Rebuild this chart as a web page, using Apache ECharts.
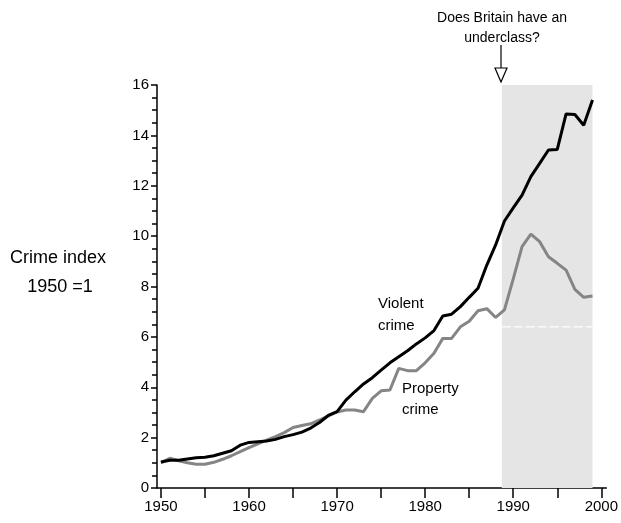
<!DOCTYPE html>
<html><head><meta charset="utf-8">
<script src="https://cdn.jsdelivr.net/npm/echarts@6/dist/echarts.min.js"></script>
<style>html,body{margin:0;padding:0;background:#fff}#c{width:621px;height:523px}</style>
</head><body><div id="c"></div>
<script>
const years = [];
for (let y = 1950; y <= 1999; y++) years.push(y);
const violent = [1.03,1.1,1.1,1.15,1.2,1.22,1.28,1.38,1.48,1.7,1.81,1.84,1.87,1.93,2.04,2.12,2.22,2.38,2.6,2.88,3.03,3.49,3.82,4.13,4.38,4.68,4.97,5.21,5.45,5.72,5.96,6.25,6.83,6.9,7.2,7.57,7.93,8.85,9.65,10.6,11.12,11.63,12.36,12.89,13.42,13.44,14.85,14.83,14.4,15.4];
const property = [1.0,1.18,1.08,1.0,0.94,0.94,1.02,1.14,1.28,1.44,1.6,1.75,1.9,2.04,2.2,2.4,2.48,2.55,2.7,2.86,3.02,3.1,3.1,3.03,3.56,3.86,3.89,4.75,4.66,4.66,4.97,5.35,5.94,5.94,6.4,6.62,7.04,7.12,6.77,7.07,8.3,9.58,10.08,9.78,9.18,8.92,8.65,7.89,7.57,7.62];
const xTicks = [1950,1955,1960,1965,1970,1975,1980,1985,1990,1995,2000];
const xLabels = [1950,1960,1970,1980,1990,2000];
const shadeYears = [1988.7, 1999];
const shadeTop = 16;
const dashedLevel = 6.4;

const chart = echarts.init(document.getElementById('c'), null, {renderer:'canvas'});
const font = 'Liberation Sans, Arial, sans-serif';
chart.setOption({
  animation:false,
  grid:{left:157, right:14, top:85, bottom:35},
  xAxis:{type:'value', min:1949.55, max:2000.57,
    axisLine:{show:true, lineStyle:{color:'#000', width:1.5}},
    axisTick:{show:true, inside:false, length:10, customValues:xTicks, lineStyle:{color:'#000', width:1.5}},
    axisLabel:{customValues:xLabels, formatter:v=>String(v), color:'#000', fontSize:15, fontFamily:font, margin:11},
    splitLine:{show:false}},
  yAxis:{type:'value', min:0, max:16, interval:2,
    axisLine:{show:true, lineStyle:{color:'#000', width:1.5}},
    axisTick:{show:true, length:6, lineStyle:{color:'#000', width:1.5}},
    minorTick:{show:true, splitNumber:4, length:5, lineStyle:{color:'#000', width:1.5}},
    axisLabel:{color:'#000', fontSize:15, fontFamily:font, margin:8},
    splitLine:{show:false}},
  series:[
    {type:'line', data:[[shadeYears[0],dashedLevel],[shadeYears[1],dashedLevel]], symbol:'none', silent:true, z:3,
     lineStyle:{color:'#fff', width:1.2, type:[9,3]},
     markArea:{silent:true, itemStyle:{color:'#e5e5e5'},
       data:[[{xAxis:shadeYears[0], yAxis:0},{xAxis:shadeYears[1], yAxis:shadeTop}]]}},
    {type:'line', data:years.map((y,i)=>[y,property[i]]), symbol:'none', z:4,
     lineStyle:{color:'#858585', width:3}},
    {type:'line', data:years.map((y,i)=>[y,violent[i]]), symbol:'none', z:5,
     lineStyle:{color:'#000', width:3}}
  ],
  graphic:[
    {type:'text', x:58, y:258, style:{text:'Crime index', font:'18px '+font, fill:'#000', align:'center', verticalAlign:'middle'}},
    {type:'text', x:60, y:287, style:{text:'1950 =1', font:'18px '+font, fill:'#000', align:'center', verticalAlign:'middle'}},
    {type:'text', left:378, top:293, style:{text:'Violent\ncrime', font:'15px '+font, fill:'#000', lineHeight:22}},
    {type:'text', left:402, top:378, style:{text:'Property\ncrime', font:'15px '+font, fill:'#000', lineHeight:21}},
    {type:'text', x:502, y:18, style:{text:'Does Britain have an', font:'14px '+font, fill:'#000', align:'center', verticalAlign:'middle'}},
    {type:'text', x:502, y:38, style:{text:'underclass?', font:'14px '+font, fill:'#000', align:'center', verticalAlign:'middle'}},
    {type:'line', shape:{x1:501, y1:45, x2:501, y2:68}, style:{stroke:'#000', lineWidth:1.2}},
    {type:'polygon', shape:{points:[[495,68],[507,68],[501,82]]}, style:{fill:'#fff', stroke:'#000', lineWidth:1.2}}
  ]
});
</script></body></html>
